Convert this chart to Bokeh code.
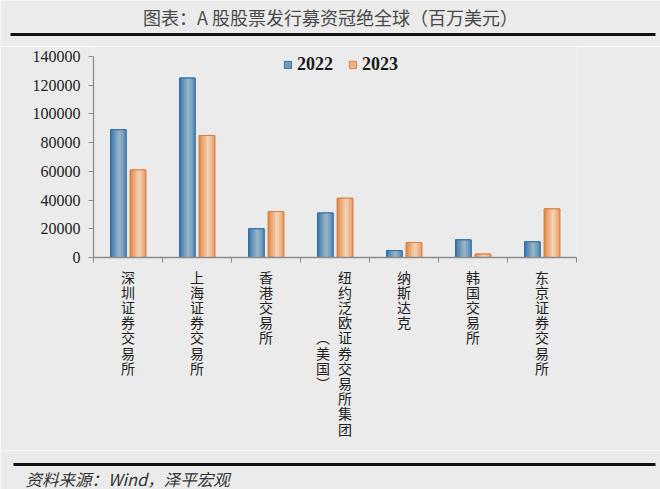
from bokeh.plotting import figure
from bokeh.layouts import column
from bokeh.models import (ColumnDataSource, Range1d, FixedTicker, Label, BoxAnnotation,
                          Legend, LegendItem)
from bokeh.transform import dodge
from bokeh.embed import file_html
from bokeh.resources import INLINE

# ---------------- data ----------------
title_text = "图表：A 股股票发行募资冠绝全球（百万美元）"
source_text = "资料来源：Wind，泽平宏观"
categories = ["深圳证券交易所", "上海证券交易所", "香港交易所",
              "纽约泛欧证券交易所集团（美国）", "纳斯达克", "韩国交易所", "东京证券交易所"]
series_names = ["2022", "2023"]
values_2022 = [89000, 125000, 20000, 31000, 4800, 12300, 10900]
values_2023 = [61000, 85000, 32000, 41300, 10400, 2400, 33900]
y_ticks = [0, 20000, 40000, 60000, 80000, 100000, 120000, 140000]
y_tick_labels = ["0", "20000", "40000", "60000", "80000", "100000", "120000", "140000"]

# ---------------- styles ----------------
BG = "#ebebeb"
AXIS = "#8c8c8c"
CJK = "Noto Sans CJK SC"
SERIF = "Liberation Serif"
BLUE_EDGE = (48, 112, 168)
BLUE_MID = (158, 184, 200)
ORG_EDGE = (222, 128, 62)
ORG_MID = (246, 214, 186)
WIDTH = 660
H_HEAD, H_MAIN, H_FOOT = 46, 404, 39
AXIS_PX = 201        # pixel height of the 0..max tick span
FRAME_PX = 211       # frame height (a little head-room above the top tick)


def blank_fig(h):
    f = figure(width=WIDTH, height=h, output_backend="svg", toolbar_location=None, tools="",
               x_range=Range1d(0, WIDTH), y_range=Range1d(0, h),
               x_axis_location=None, y_axis_location=None, frame_align=False,
               min_border=0, background_fill_color=BG, border_fill_color=BG)
    f.outline_line_color = None
    f.xgrid.visible = False
    f.ygrid.visible = False
    return f


# ---------------- header ----------------
head = blank_fig(H_HEAD)
head.add_layout(Label(x=330, y=H_HEAD - 16, text=title_text, text_font=CJK,
                      text_font_size="18px", text_color="#4a4a4a",
                      text_align="center", text_baseline="middle"))
head.add_layout(BoxAnnotation(left=10, right=655, top=H_HEAD - 32.5, bottom=H_HEAD - 35.5,
                              fill_color="#111111", fill_alpha=1, line_color=None))

# ---------------- main chart ----------------
n_cat = len(categories)
idx = [i for i in range(n_cat)]
src = ColumnDataSource(dict(x=idx, v2022=values_2022, v2023=values_2023))

y_end = y_ticks[-1] * FRAME_PX / AXIS_PX
p = figure(width=WIDTH, height=H_MAIN, output_backend="svg", toolbar_location=None, tools="",
           x_range=Range1d(0, n_cat), y_range=Range1d(y_ticks[0], y_end),
           min_border_left=93, min_border_right=84, min_border_top=0,
           min_border_bottom=H_MAIN - FRAME_PX,
           frame_align=False, background_fill_color=BG, border_fill_color=BG)
p.outline_line_color = None
p.xgrid.visible = False
p.ygrid.visible = False

p.yaxis.ticker = FixedTicker(ticks=y_ticks, minor_ticks=[])
p.yaxis.bounds = (y_ticks[0], y_ticks[-1])
p.yaxis.major_label_overrides = {t: l for t, l in zip(y_ticks, y_tick_labels)}
p.yaxis.major_label_text_font = SERIF
p.yaxis.major_label_text_font_size = "16px"
p.yaxis.major_label_text_color = "#222222"
p.yaxis.major_label_standoff = 8
p.yaxis.major_tick_out = 5
p.yaxis.major_tick_in = 0
p.yaxis.axis_line_color = AXIS
p.yaxis.major_tick_line_color = AXIS
p.yaxis.axis_line_width = 1.3

# x axis: labels at category centres (stacked vertical text), ticks at boundaries
label_ticks = []
label_text = {}
for i, name in enumerate(categories):
    if "（" in name:
        main, extra = name.split("（")
        extra = "︵" + extra.replace("）", "") + "︶"
        t1 = i + 0.5 + 10 / 69
        t2 = i + 0.5 - 12 / 69
        label_ticks += [t2, t1]
        label_text[t1] = "\n".join(main)
        label_text[t2] = "\n".join(["　"] * 4 + list(extra))
    else:
        t = i + 0.5
        label_ticks.append(t)
        label_text[t] = "\n".join(name)
p.xaxis.ticker = FixedTicker(ticks=label_ticks, minor_ticks=[float(i) for i in range(n_cat + 1)])
p.xaxis.major_label_overrides = label_text
p.xaxis.major_label_text_font = CJK
p.xaxis.major_label_text_font_size = "14px"
p.xaxis.major_label_text_line_height = 0.76
p.xaxis.major_label_text_color = "#222222"
p.xaxis.major_label_standoff = 3
p.xaxis.major_tick_line_color = None
p.xaxis.minor_tick_out = 5
p.xaxis.minor_tick_in = 0
p.xaxis.minor_tick_line_color = AXIS
p.xaxis.axis_line_color = AXIS
p.xaxis.axis_line_width = 1.3


def rgb(c):
    return "#%02x%02x%02x" % tuple(int(round(v)) for v in c)


def mix(a, b, f):
    return tuple(a[k] + (b[k] - a[k]) * f for k in range(3))


W = 0.225
offsets = [0.36, 0.645]
cols = ["v2022", "v2023"]
edges = [BLUE_EDGE, ORG_EDGE]
mids = [BLUE_MID, ORG_MID]
base_renderers = []
NS = 10
for s in range(2):
    base = p.vbar(x=dodge("x", offsets[s], range=p.x_range), top=cols[s], bottom=0, width=W,
                  source=src, fill_color=rgb(mix(edges[s], mids[s], 0.6)),
                  line_color=rgb(edges[s]))
    base_renderers.append(base)
    for k in range(NS):
        tc = (k + 0.5) / NS
        f = max(0.0, 1 - abs(tc - 0.58) / 0.58) ** 0.9
        p.vbar(x=dodge("x", offsets[s] - W / 2 + tc * W, range=p.x_range), top=cols[s], bottom=0,
               width=W / NS * 1.15, source=src, fill_color=rgb(mix(edges[s], mids[s], f)),
               line_color=None)
    p.vbar(x=dodge("x", offsets[s], range=p.x_range), top=cols[s], bottom=0, width=W,
           source=src, fill_color=None, line_color=rgb(edges[s]), line_width=1)

legend = Legend(items=[LegendItem(label=series_names[0], renderers=[base_renderers[0]]),
                       LegendItem(label=series_names[1], renderers=[base_renderers[1]])],
                orientation="horizontal", location=(190, 182), padding=0, margin=0,
                spacing=15, label_standoff=5, glyph_width=9, glyph_height=9, label_height=22,
                label_text_font=SERIF, label_text_font_style="bold",
                label_text_font_size="18px", label_text_color="#1a1a1a",
                background_fill_alpha=0, border_line_color=None)
p.add_layout(legend)

# ---------------- footer ----------------
foot = blank_fig(H_FOOT)
foot.add_layout(BoxAnnotation(left=13, right=655, top=H_FOOT - 12.5, bottom=H_FOOT - 15.5,
                              fill_color="#111111", fill_alpha=1, line_color=None))
foot.add_layout(Label(x=25, y=H_FOOT - 28, text=source_text, text_font=CJK,
                      text_font_size="16.5px", text_font_style="italic", text_color="#333333",
                      text_align="left", text_baseline="middle"))

layout = column(head, p, foot, spacing=0)
open("out.html", "w").write(file_html(layout, INLINE))
